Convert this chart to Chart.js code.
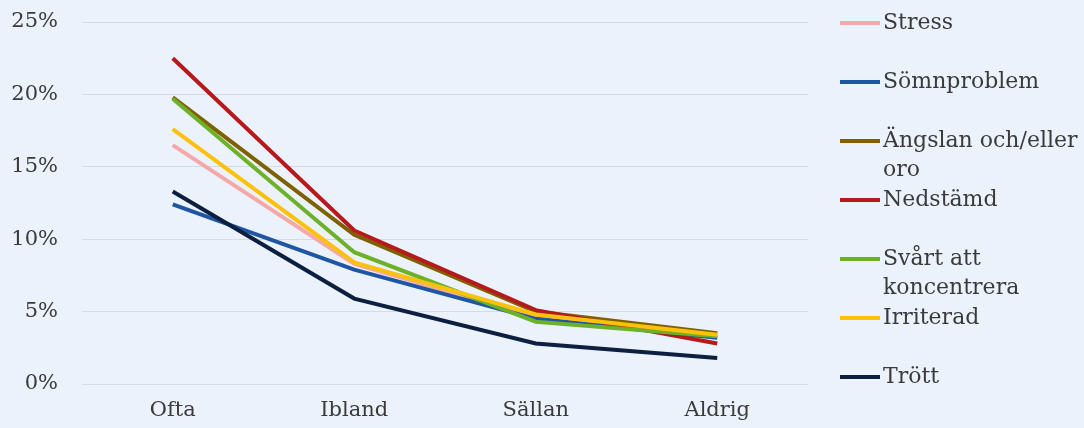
<!DOCTYPE html>
<html lang="sv">
<head>
<meta charset="utf-8">
<title>Symptom efter frekvens</title>
<script src="https://cdn.jsdelivr.net/npm/chart.js@4/dist/chart.umd.min.js"></script>
<style>
  html, body { margin: 0; padding: 0; background: #ebf2fc; }
  #wrap { width: 1084px; height: 428px; }
</style>
</head>
<body>
<div id="wrap"><canvas id="c" width="1084" height="428"></canvas></div>
<script>
// Categories on the x axis
const categories = ['Ofta', 'Ibland', 'Sällan', 'Aldrig'];

// Share of respondents (%) per symptom
const stress     = [16.5, 8.3, 4.6, 3.2];
const somn       = [12.4, 7.9, 4.5, 3.2];
const angslan    = [19.8, 10.3, 5.0, 3.5];
const nedstamd   = [22.5, 10.6, 5.1, 2.8];
const svart      = [19.7, 9.1, 4.3, 3.3];
const irriterad  = [17.6, 8.4, 4.8, 3.4];
const trott      = [13.3, 5.9, 2.8, 1.8];

// Legend labels (split where the legend wraps)
const seriesLabels = [
  ['Stress'],
  ['Sömnproblem'],
  ['Ängslan och/eller', 'oro'],
  ['Nedstämd'],
  ['Svårt att', 'koncentrera'],
  ['Irriterad'],
  ['Trött']
];

// Y axis ticks
const yTicks = [0, 5, 10, 15, 20, 25];

const seriesValues = [stress, somn, angslan, nedstamd, svart, irriterad, trott];
const seriesColors = ['#f4a9a8', '#1f56a3', '#7f6000', '#b5191b', '#6db12a', '#fcc20b', '#0d1f3f'];

const FONT = '"DejaVu Serif", Georgia, serif';
const TEXT = '#3a3a3a';

// Legend drawn to the right of the plot, one entry per series with wrapped labels
const sideLegend = {
  id: 'sideLegend',
  afterDraw(chart, args, opts) {
    const ctx = chart.ctx;
    ctx.save();
    ctx.font = opts.fontSize + 'px ' + FONT;
    ctx.textBaseline = 'middle';
    ctx.textAlign = 'left';
    chart.data.datasets.forEach((ds, i) => {
      const y = opts.top + i * opts.spacing;
      ctx.strokeStyle = ds.borderColor;
      ctx.lineWidth = ds.borderWidth;
      ctx.lineCap = 'butt';
      ctx.beginPath();
      ctx.moveTo(opts.x, y);
      ctx.lineTo(opts.x + opts.lineLen, y);
      ctx.stroke();
      ctx.fillStyle = TEXT;
      ds.legendLines.forEach((line, j) => {
        ctx.fillText(line, opts.x + opts.lineLen + opts.gap, y + j * opts.lineHeight);
      });
    });
    ctx.restore();
  }
};

const datasets = seriesValues.map((vals, i) => ({
  label: seriesLabels[i].join(' '),
  legendLines: seriesLabels[i],
  data: vals,
  borderColor: seriesColors[i],
  backgroundColor: seriesColors[i],
  borderWidth: 4,
  pointRadius: 0,
  pointHoverRadius: 0,
  tension: 0,
  fill: false,
  order: seriesValues.length - i
}));

new Chart(document.getElementById('c'), {
  type: 'line',
  data: { labels: categories, datasets },
  plugins: [sideLegend],
  options: {
    responsive: false,
    animation: false,
    events: [],
    layout: { padding: { top: 22, right: 276, bottom: 0, left: 12 } },
    plugins: {
      legend: { display: false },
      tooltip: { enabled: false },
      sideLegend: { x: 840, top: 23, spacing: 59, lineLen: 40, gap: 3, lineHeight: 29, fontSize: 22 }
    },
    scales: {
      x: {
        offset: true,
        grid: { display: false, drawTicks: false },
        border: { display: false },
        ticks: { color: TEXT, font: { family: FONT, size: 21 }, padding: 14 },
        afterFit(axis) { axis.height = 44; }
      },
      y: {
        min: 0,
        max: 25,
        afterBuildTicks(axis) { axis.ticks = yTicks.map(v => ({ value: v })); },
        grid: { color: '#d6dbe2', lineWidth: 1, drawTicks: false },
        border: { display: false },
        ticks: {
          color: TEXT,
          font: { family: FONT, size: 21 },
          padding: 24,
          callback: v => v + '%'
        },
        afterFit(axis) {
          axis.width = 70;
          axis.paddingTop = 0;
          axis.paddingBottom = 0;
        }
      }
    }
  }
});
</script>
</body>
</html>
